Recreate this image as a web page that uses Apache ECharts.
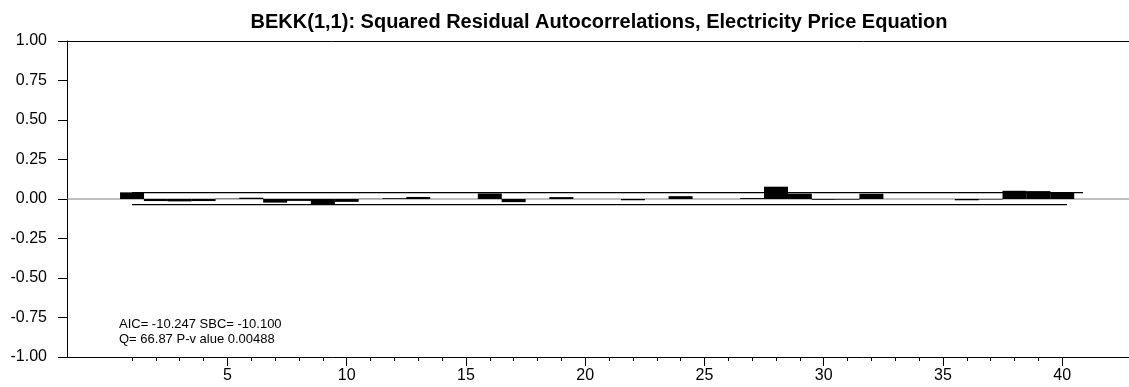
<!DOCTYPE html>
<html>
<head>
<meta charset="utf-8">
<script src="https://cdn.jsdelivr.net/npm/echarts@6/dist/echarts.min.js"></script>
<style>
  html, body { margin: 0; padding: 0; background: #fff; }
  #chart { width: 1129px; height: 387px; }
</style>
</head>
<body>
<div id="chart"></div>
<script>
// Lags of the squared-residual autocorrelation function
const lags = Array.from({ length: 40 }, (_, i) => i + 1);

// Autocorrelation of squared standardized residuals, lags 1..40
const acfValues = [
  0.042, -0.013, -0.015, -0.013, 0.002, 0.008, -0.023, -0.012, -0.038, -0.018,
  0.001, 0.005, 0.013, 0.000, 0.000, 0.035, -0.020, 0.000, 0.012, 0.000,
  0.000, -0.008, 0.000, 0.018, 0.000, 0.000, 0.006, 0.078, 0.034, -0.005,
  -0.004, 0.033, 0.000, 0.000, 0.000, -0.008, -0.003, 0.052, 0.050, 0.038
];

// Approximate two-standard-error bands: [lag, level] end points
const upperBand = [[1, 0.040], [40.87, 0.040]];
const lowerBand = [[1, -0.036], [40.2, -0.036]];

// Axis ticks
const yTicks = [-1, -0.75, -0.5, -0.25, 0, 0.25, 0.5, 0.75, 1];
const xMajorTicks = [5, 10, 15, 20, 25, 30, 35, 40];

const titleText = 'BEKK(1,1): Squared Residual Autocorrelations, Electricity Price Equation';
const statLines = ['AIC= -10.247 SBC= -10.100', 'Q= 66.87 P-v alue 0.00488'];

const FONT = 'Liberation Sans, Arial, sans-serif';
const X_MIN = -1.727, X_MAX = 42.80;

const chart = echarts.init(document.getElementById('chart'), null, { renderer: 'canvas' });

chart.setOption({
  animation: false,
  backgroundColor: '#ffffff',
  title: {
    text: titleText,
    left: 594,
    top: 7,
    textAlign: 'center',
    textStyle: { fontFamily: FONT, fontSize: 20, fontWeight: 'bold', color: '#000' }
  },
  grid: { left: 67, right: 0, top: 41, bottom: 30, containLabel: false },
  xAxis: [
    {
      // minor ticks at every lag
      type: 'value', min: X_MIN, max: X_MAX, position: 'bottom',
      axisLine: { show: true, onZero: false, lineStyle: { color: '#000', width: 1 } },
      axisTick: { show: true, inside: false, length: 4, customValues: lags, lineStyle: { color: '#000' } },
      axisLabel: { show: false },
      splitLine: { show: false }
    },
    {
      // major ticks with labels
      type: 'value', min: X_MIN, max: X_MAX, position: 'bottom',
      axisLine: { show: false, onZero: false },
      axisTick: { show: true, inside: false, length: 9, customValues: xMajorTicks, lineStyle: { color: '#000' } },
      axisLabel: {
        show: true, customValues: xMajorTicks, margin: 11,
        fontFamily: FONT, fontSize: 16, color: '#000'
      },
      splitLine: { show: false }
    },
    {
      // top frame line
      type: 'value', min: X_MIN, max: X_MAX, position: 'top',
      axisLine: { show: true, onZero: false, lineStyle: { color: '#000', width: 1 } },
      axisTick: { show: false },
      axisLabel: { show: false },
      splitLine: { show: false }
    }
  ],
  yAxis: {
    type: 'value', min: -1, max: 1, position: 'left',
    axisLine: { show: true, onZero: false, lineStyle: { color: '#000', width: 1 } },
    axisTick: { show: true, inside: false, length: 9, customValues: yTicks, lineStyle: { color: '#000' } },
    axisLabel: {
      show: true, customValues: yTicks, margin: 20,
      fontFamily: FONT, fontSize: 16, color: '#000',
      formatter: v => v.toFixed(2)
    },
    splitLine: { show: false }
  },
  series: [
    {
      // zero reference line across the plot
      type: 'line', xAxisIndex: 0, data: [[X_MIN, 0], [X_MAX, 0]], symbol: 'none', z: 1,
      lineStyle: { color: '#808080', width: 1.2 }, silent: true
    },
    {
      type: 'line', xAxisIndex: 0, data: upperBand, symbol: 'none', z: 2,
      lineStyle: { color: '#000', width: 1.2 }, silent: true
    },
    {
      type: 'line', xAxisIndex: 0, data: lowerBand, symbol: 'none', z: 2,
      lineStyle: { color: '#000', width: 1.2 }, silent: true
    },
    {
      type: 'bar', xAxisIndex: 0, barWidth: 24, z: 3,
      data: lags.map((lag, i) => [lag, acfValues[i]]),
      itemStyle: { color: '#000' }
    }
  ],
  graphic: statLines.map((t, i) => ({
    type: 'text', left: 119, top: 318 + i * 15,
    style: { text: t, fontFamily: FONT, fontSize: 13, fill: '#000' }
  }))
});
</script>
</body>
</html>
